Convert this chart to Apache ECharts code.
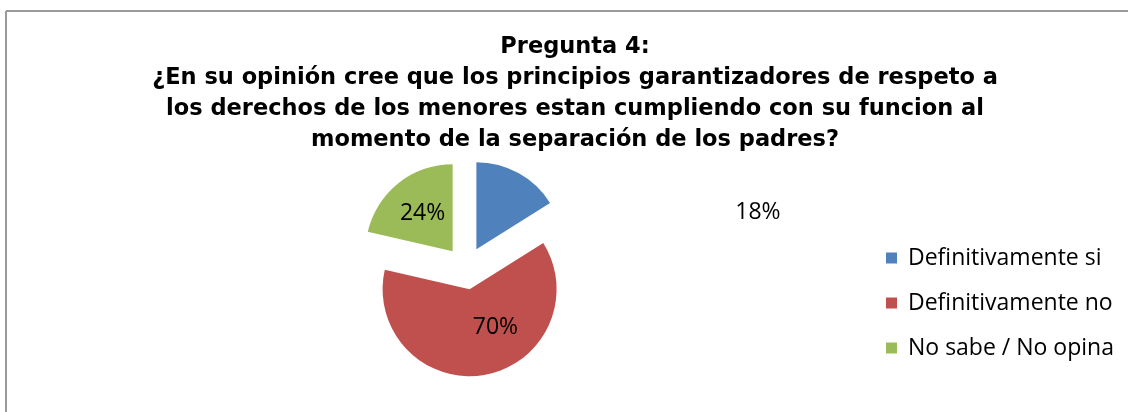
<!DOCTYPE html>
<html>
<head>
<meta charset="utf-8">
<script src="https://cdn.jsdelivr.net/npm/echarts@6/dist/echarts.min.js"></script>
<style>html,body{margin:0;padding:0;background:#fff}#c{width:1128px;height:412px}</style>
</head>
<body>
<div id="c"></div>
<script>
const categories = ['Definitivamente si', 'Definitivamente no', 'No sabe / No opina'];
const values = [18, 70, 24];
const colors = ['#4F81BD', '#C0504D', '#9BBB59'];
const titleLines = [
  'Pregunta 4:',
  '¿En su opinión cree que los principios garantizadores de respeto a',
  'los derechos de los menores estan cumpliendo con su funcion al',
  'momento de la separación de los padres?'
];

const chart = echarts.init(document.getElementById('c'), null, {renderer: 'canvas'});
const labelFont = 'Open Sans';
const labelAdjust = [{dx: 259, dy: 4}, {dx: 18, dy: -8}, {dx: -1, dy: -1}];

chart.setOption({
  animation: false,
  backgroundColor: '#fff',
  title: {
    text: titleLines.join('\n'),
    left: 575,
    textAlign: 'center',
    top: 32,
    padding: 0,
    textStyle: {fontFamily: 'DejaVu Sans', fontWeight: 'bold', fontSize: 22.5, lineHeight: 31, color: '#000'}
  },
  legend: {
    orient: 'vertical',
    left: 886,
    top: 246,
    padding: 0,
    itemWidth: 11,
    itemHeight: 11,
    itemGap: 21,
    icon: 'rect',
    selectedMode: false,
    textStyle: {fontFamily: labelFont, fontSize: 23, lineHeight: 24, color: '#000', padding: [0, 0, 0, 6]},
    data: categories
  },
  graphic: [
    {type: 'line', shape: {x1: 6, y1: 11, x2: 1128, y2: 11}, style: {stroke: '#9a9a9a', lineWidth: 2}},
    {type: 'line', shape: {x1: 6, y1: 11, x2: 6, y2: 412}, style: {stroke: '#9a9a9a', lineWidth: 2}}
  ],
  series: [{
    type: 'pie',
    center: [466, 268],
    radius: 87,
    startAngle: 90,
    clockwise: true,
    selectedMode: 'multiple',
    selectedOffset: 21.5,
    emphasis: {disabled: true},
    select: {itemStyle: {borderWidth: 0}, label: {show: true}},
    label: {
      show: true,
      position: 'inside',
      formatter: p => p.value + '%',
      fontFamily: labelFont,
      fontSize: 23,
      color: '#000'
    },
    labelLine: {show: false},
    labelLayout: function (params) {
      return labelAdjust[params.dataIndex];
    },
    data: categories.map((name, i) => ({
      name: name,
      value: values[i],
      selected: true,
      itemStyle: {color: colors[i]},
      select: {itemStyle: {color: colors[i], borderWidth: 0}}
    }))
  }]
});
</script>
</body>
</html>
